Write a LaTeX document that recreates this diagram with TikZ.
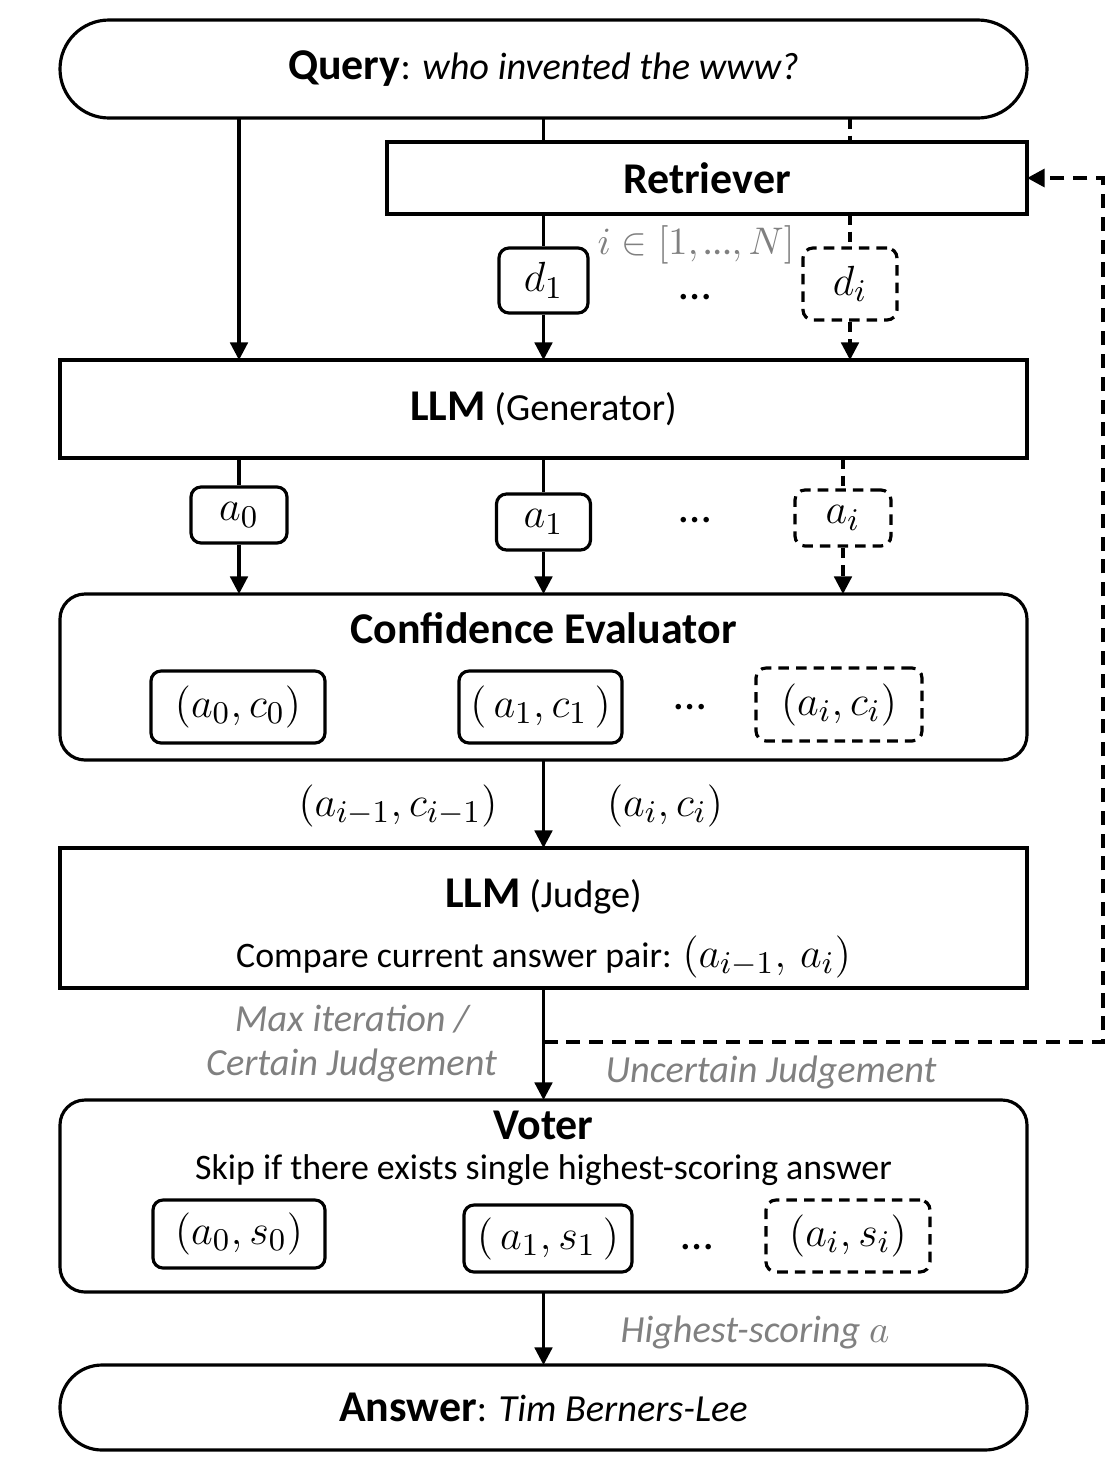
\documentclass[tikz,border=0pt]{standalone}
\usepackage{fontspec}
\setmainfont{Carlito}
\usetikzlibrary{positioning}
\usetikzlibrary{arrows.meta}

\definecolor{notegray}{RGB}{128,128,128}
\newcommand{\headsize}{\fontsize{12.5}{15}\selectfont}
\newcommand{\bodysize}{\fontsize{10.2}{12.5}\selectfont}
\newcommand{\notesize}{\fontsize{10.9}{13}\selectfont}
\newcommand{\boxsize}{\fontsize{12.2}{15}\selectfont}

\begin{document}
\begin{tikzpicture}
		[>={Triangle[length=5pt,width=5pt]}, line width=0.9pt,
		 pill/.style={draw, minimum width=9.67cm, minimum height=0.98cm, rounded corners=0.49cm, inner sep=0pt, outer sep=0pt, font=\notesize},
		 block/.style={draw, minimum width=9.67cm, inner sep=0pt, outer sep=0pt, font=\bodysize},
		 panel/.style={draw, minimum width=9.67cm, rounded corners=0.25cm, inner sep=0pt, outer sep=0pt},
		 item/.style={draw, rounded corners=0.1cm, inner sep=0pt, font=\boxsize},
		 ghost/.style={item, dash pattern=on 3pt off 2pt},
		 faint/.style={dash pattern=on 3pt off 2pt},
		 note/.style={text=notegray, font=\notesize\itshape},
		 heading/.style={font=\headsize\bfseries},
		 skipdots/.style={font=\fontsize{13}{15}\selectfont},
		 loopline/.style={line width=1.2pt, dash pattern=on 4pt off 2.5pt}]
		\useasboundingbox (0,0) rectangle (11.1,-14.6);

		\node[pill] (query) at (5.435,-0.69) {{\headsize\bfseries Query}: \textit{who invented the www?}};
		\node[block, minimum width=6.4cm, minimum height=0.72cm, heading] (retriever) at (7.07,-1.78) {Retriever};
		\node[block, minimum height=0.98cm, font=\notesize, below=2.42cm of query] (llm) {{\headsize\bfseries LLM} (Generator)};
		\node[panel, minimum height=1.66cm, below=1.36cm of llm] (conf) {};
		\node[block, minimum height=1.40cm, below=0.88cm of conf] (judge) {};
		\node[panel, minimum height=1.92cm, below=1.12cm of judge] (voter) {};
		\node[pill, minimum height=0.85cm, rounded corners=0.42cm, below=0.73cm of voter] (answer) {{\headsize\bfseries Answer}: \textit{Tim Berners-Lee}};

		\node[item, minimum width=0.89cm, minimum height=0.65cm] (d1) at (5.435,-2.805) {$d_1$};
		\node[ghost, minimum width=0.94cm, minimum height=0.72cm] (di) at (8.5,-2.84) {$d_i$};
		\node[note, font=\fontsize{11}{13}\selectfont] (range) at (6.96,-2.45) {$i\in[1,\mbox{…},N]$};
		\node[skipdots] (ddots) at (6.95,-2.97) {…};

		\node[item, minimum width=0.96cm, minimum height=0.56cm] (a0) at (2.39,-5.15) {$a_0$};
		\node[item, minimum width=0.94cm, minimum height=0.56cm] (a1) at (5.435,-5.22) {$a_1$};
		\node[ghost, minimum width=0.96cm, minimum height=0.56cm] (ai) at (8.43,-5.18) {$a_i$};
		\node[skipdots] (adots) at (6.95,-5.2) {…};

		\node[heading] (conftitle) at ([yshift=-0.34cm]conf.north) {Confidence Evaluator};
		\node[item, minimum width=1.74cm, minimum height=0.72cm] (c0) at (2.38,-7.07) {$(a_0,c_0)$};
		\node[item, minimum width=1.63cm, minimum height=0.72cm] (c1) at (5.405,-7.07) {$(\,a_1,c_1\,)$};
		\node[ghost, minimum width=1.66cm, minimum height=0.73cm] (ci) at (8.39,-7.045) {$(a_i,c_i)$};
		\node[skipdots] (cdots) at (6.9,-7.07) {…};

		\node[font=\boxsize] (prev) at (3.98,-8.06) {$(a_{i-1},c_{i-1})$};
		\node[font=\boxsize] (curr) at (6.65,-8.06) {$(a_i,c_i)$};

		\node[font=\notesize] (judgetitle) at ([yshift=-0.49cm]judge.north) {{\headsize\bfseries LLM} (Judge)};
		\node[font=\bodysize] (judgetask) at ([yshift=-1.09cm]judge.north) {Compare current answer pair: {\boxsize$(a_{i-1},\,a_i)$}};

		\node[note] (maxiter) at (3.52,-10.19) {Max iteration /};
		\node[note] (certain) at (3.515,-10.65) {Certain Judgement};
		\node[note] (uncertain) at (7.71,-10.72) {Uncertain Judgement};

		\node[heading] (votertitle) at ([yshift=-0.25cm]voter.north) {Voter};
		\node[font=\bodysize] (skip) at ([yshift=-0.70cm]voter.north) {Skip if there exists single highest-scoring answer};
		\node[item, minimum width=1.72cm, minimum height=0.68cm] (s0) at (2.39,-12.34) {$(a_0,s_0)$};
		\node[item, minimum width=1.68cm, minimum height=0.67cm] (s1) at (5.48,-12.385) {$(\,a_1,s_1\,)$};
		\node[ghost, minimum width=1.64cm, minimum height=0.72cm] (si) at (8.48,-12.36) {$(a_i,s_i)$};
		\node[skipdots] (sdots) at (6.97,-12.47) {…};

		\node[note] (best) at (7.55,-13.32) {Highest-scoring $a$};

		\coordinate (split) at (5.435,-10.42);
		\coordinate (back) at (11.03,-10.42);

		\draw[->] (query.south -| a0) -- (llm.north -| a0);
		\draw (query.south -| d1) -- (retriever.north -| d1);
		\draw[faint] (query.south -| di) -- (retriever.north -| di);
		\draw (retriever.south -| d1) -- (d1.north);
		\draw[faint] (retriever.south -| di) -- (di.north);
		\draw[->] (d1.south) -- (llm.north -| d1);
		\draw[faint, ->] (di.south) -- (llm.north -| di);

		\draw (llm.south -| a0) -- (a0.north);
		\draw (llm.south -| a1) -- (a1.north);
		\draw[faint] (llm.south -| ai) -- (ai.north);
		\draw[->] (a0.south) -- (conf.north -| a0);
		\draw[->] (a1.south) -- (conf.north -| a1);
		\draw[faint, ->] (ai.south) -- (conf.north -| ai);

		\draw[->] (conf.south) -- (judge.north);
		\draw[->] (judge.south) -- (voter.north);
		\draw[loopline, ->] (split) -- (back) |- (retriever.east);
		\draw[->] (voter.south) -- (answer.north);
	\end{tikzpicture}
\end{document}
